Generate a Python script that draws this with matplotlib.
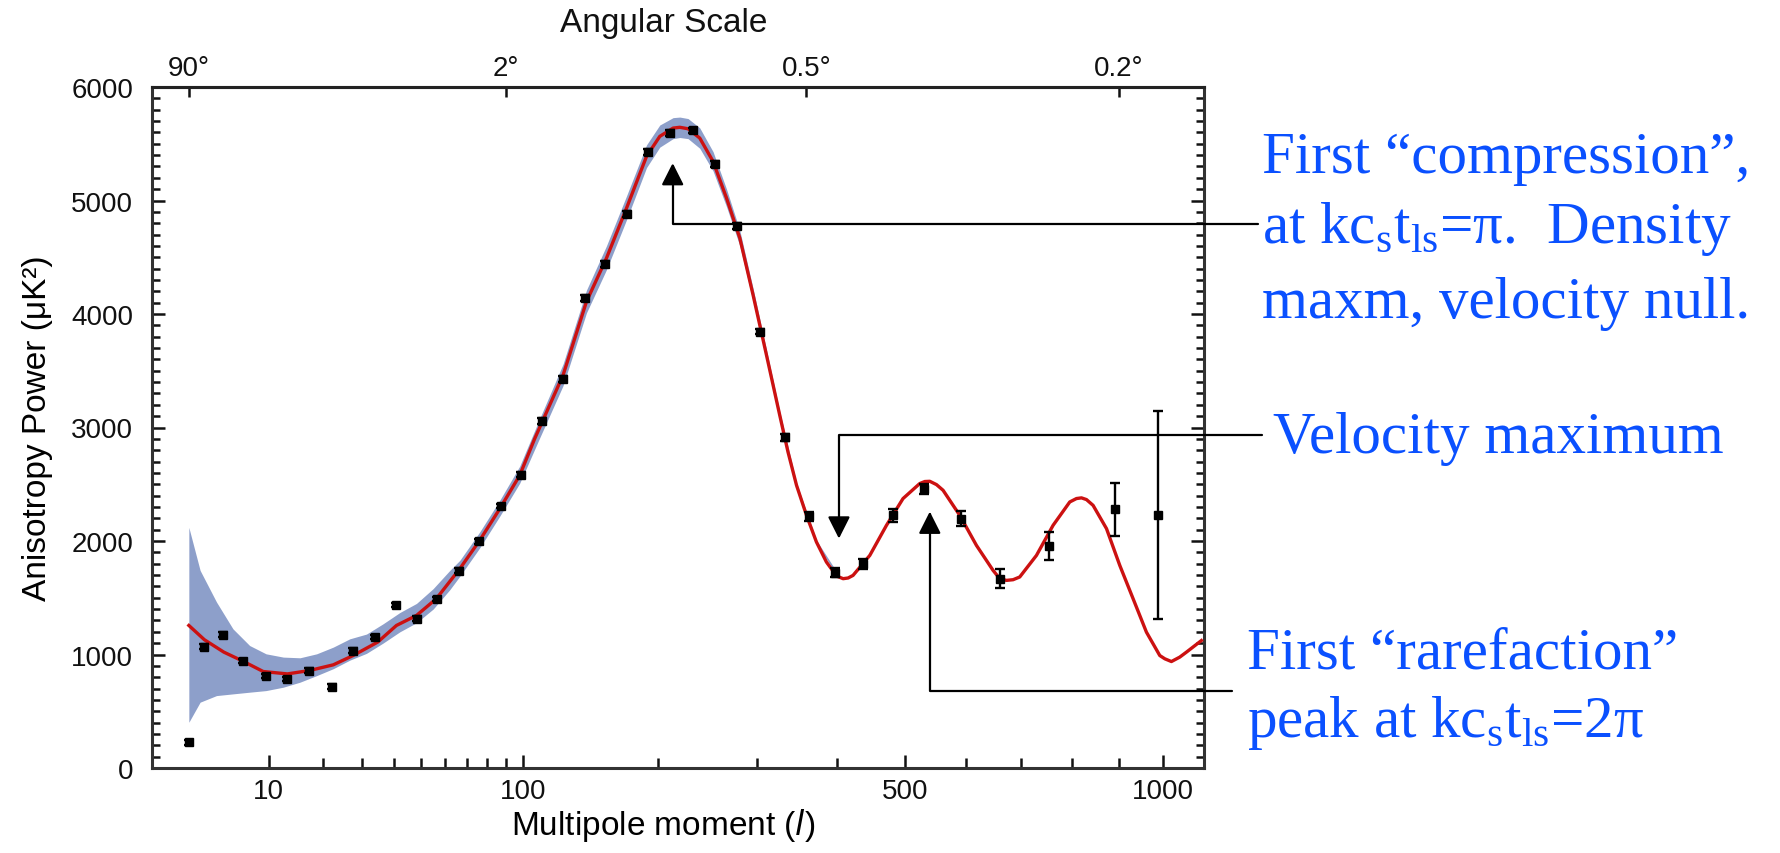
import numpy as np
import matplotlib.pyplot as plt
from matplotlib.ticker import FixedLocator, MultipleLocator, NullLocator

# binned measurements (multipole, power in uK^2, error)
data_l = [2, 3, 4.5, 6.6, 9.6, 13, 17.1, 22.1, 27.6, 33.9, 40.7, 48.3, 56.5, 66.0,
          75.9, 87.2, 98.9, 111.5, 124.8, 140.9, 155.3, 172.6, 190.8, 210.3, 232.5,
          254.4, 278.5, 304.3, 333.8, 363.1, 398.0, 436.8, 481.0, 529.4, 590.3,
          659.5, 753.7, 891.0, 989.0]
data_v = [227, 1070, 1176, 941, 809, 785, 859, 717, 1035, 1153, 1438, 1315, 1491, 1738,
          1997, 2309, 2585, 3056, 3426, 4138, 4441, 4882, 5427, 5594, 5618,
          5321, 4776, 3845, 2915, 2217, 1721, 1800, 2226, 2462, 2197,
          1668, 1956, 2279, 2232]
data_err = [20, 20, 20, 20, 20, 20, 20, 20, 20, 20, 20, 20, 20, 20,
            20, 20, 20, 25, 25, 25, 25, 25, 25, 25, 25,
            25, 25, 25, 30, 40, 40, 44, 56, 44, 63,
            85, 125, 235, 915]

# best fit model curve
curve_l = [2, 3, 4.6, 6.6, 9.2, 13, 17.2, 22.5, 27.6, 34.8, 41, 48.3, 56.2, 66.6,
           76.2, 86.7, 97.9, 106.9, 125.2, 141.6, 156.6, 172.6, 189.5, 201.2, 213.4,
           219.7, 227.6, 239.1, 252.6, 266.7, 281.1, 295.9, 311.3, 327, 337, 347.6,
           360.2, 373, 386.1, 399.7, 408.7, 415.6, 422.5, 446.4, 471, 496.2, 522.4,
           530.5, 538.6, 549.5, 560.4, 588.6, 617.6, 647.3, 659.5, 671.8, 684.2,
           696.7, 728.8, 761.6, 795.4, 809.2, 819.6, 830.1, 844.1, 872.9, 902,
           931.8, 962.1, 993.1, 1005, 1020.6, 1040.6, 1056.8, 1093.6]
curve_v = [1256, 1130, 1021, 941, 850, 829, 859, 909, 991, 1109, 1256, 1344, 1491, 1756,
           2006, 2285, 2579, 2903, 3462, 4109, 4491, 4932, 5389, 5565, 5638,
           5645, 5632, 5550, 5344, 5021, 4668, 4167, 3638, 3109, 2786, 2491,
           2226, 1991, 1815, 1692, 1668, 1674, 1697, 1873, 2138, 2374, 2506,
           2524, 2526, 2497, 2447, 2226, 1961, 1741, 1668, 1653, 1659,
           1683, 1873, 2138, 2344, 2374, 2380, 2365, 2314, 2109, 1785,
           1491, 1197, 991, 962, 938, 977, 1021, 1123]

# cosmic variance band
band_l = [2, 2.7, 3.95, 5.5, 7.4, 9.6, 12.3, 15.3, 18.7, 22.5, 26.7, 31.4, 36.5, 42.2,
          48.3, 54.9, 62, 66.6, 76.2, 86.7, 97.9, 110, 125.2, 141.6, 156.6, 172.6,
          189.5, 201.2, 213.4, 219.7, 227.6, 239.1, 252.6, 266.7, 281.1, 295.9,
          311.3, 327, 347.6, 373, 401.9]
band_lo = [403, 580, 638, 653, 668, 682, 712, 756, 814, 875, 950, 1010, 1100, 1200,
           1280, 1400, 1570, 1690, 1940, 2220, 2510, 2910, 3370, 4010, 4390, 4830,
           5290, 5470, 5545, 5555, 5545, 5460, 5260, 4945, 4600, 4110,
           3590, 3075, 2470, 1975, 1685]
band_hi = [2120, 1741, 1462, 1226, 1079, 1006, 977, 971, 1006, 1065, 1138, 1180, 1270, 1370,
           1450, 1580, 1740, 1830, 2080, 2360, 2660, 3080, 3560, 4210, 4600, 5040,
           5490, 5665, 5730, 5735, 5722, 5640, 5430, 5100, 4735, 4225,
           3685, 3143, 2512, 2007, 1709]

bottom_major = [10, 100, 500, 1000]
bottom_minor = [20, 30, 40, 50, 60, 70, 80, 90, 200, 300, 400, 600, 700, 800, 900]
top_l = [2, 90, 360, 900]
top_labels = ['90°', '2°', '0.5°', '0.2°']

blue = '#0a50ff'
serif = 'Liberation Serif'
plt.rcParams['font.family'] = ['Liberation Sans', 'DejaVu Sans']
plt.rcParams['mathtext.fontset'] = 'custom'
plt.rcParams['mathtext.rm'] = serif


def fwd(l):
    return np.power(np.clip(l, 0, None), 0.4)


def inv(u):
    return np.power(np.clip(u, 0, None), 2.5)


fig = plt.figure(figsize=(17.8, 8.54), dpi=100)
ax = fig.add_axes([152 / 1780, 1 - 769 / 854, 1052 / 1780, 681 / 854])
ax.set_xscale('function', functions=(fwd, inv))
ax.set_xlim(0.52, 1100)
ax.set_ylim(0, 6000)

ax.fill_between(band_l, band_lo, band_hi, color='#8d9fca', lw=0, zorder=1)
ax.plot(curve_l, curve_v, color='#cc1111', lw=2.4, zorder=3)
ax.errorbar(data_l, data_v, yerr=data_err, fmt='s', color='black', ms=5.5,
            capsize=3.5, elinewidth=1.7, capthick=1.7, zorder=4)

ax.xaxis.set_major_locator(FixedLocator(bottom_major))
ax.xaxis.set_minor_locator(FixedLocator(bottom_minor))
ax.set_xticklabels([str(v) for v in bottom_major])
ax.yaxis.set_major_locator(MultipleLocator(1000))
ax.yaxis.set_minor_locator(MultipleLocator(100))
ax.tick_params(axis='x', which='both', direction='in', top=False, width=1.8,
               labelsize=20, pad=7, colors='#111111')
ax.tick_params(axis='x', which='major', length=9.5)
ax.tick_params(axis='x', which='minor', length=7.5)
ax.tick_params(axis='y', which='both', direction='in', left=True, right=True,
               width=1.8, labelsize=20, pad=13.5, colors='#111111')
ax.tick_params(axis='y', which='major', length=9.5)
ax.tick_params(axis='y', which='minor', length=5.5)
for side in ['left', 'right', 'bottom', 'top']:
    ax.spines[side].set_linewidth(2.2)
    ax.spines[side].set_color('#333333')

ax.set_xlabel('Multipole moment (' + r'$\mathit{l}$' + ')', fontsize=24)
ax.xaxis.set_label_coords(0.486, -0.056)
ax.set_ylabel('Anisotropy Power (μK²)', fontsize=24)
ax.yaxis.set_label_coords(-0.094, 0.5)

ax2 = ax.twiny()
ax2.set_xscale('function', functions=(fwd, inv))
ax2.set_xlim(ax.get_xlim())
ax2.xaxis.set_major_locator(FixedLocator(top_l))
ax2.xaxis.set_minor_locator(NullLocator())
ax2.set_xticklabels(top_labels)
ax2.tick_params(axis='x', direction='in', length=7.5, width=1.8, labelsize=20,
                pad=4, colors='#111111')
for side in ['left', 'right', 'bottom']:
    ax2.spines[side].set_visible(False)
ax2.spines['top'].set_linewidth(2.2)
ax2.spines['top'].set_color('#222222')
fig.text(664 / 1780, 1 - 32 / 854, 'Angular Scale', fontsize=24, ha='center',
         va='baseline', color='#111111')

# annotation arrows: tip in data space, elbow ends next to the text
arrow_kw = dict(arrowstyle='-|>,head_length=13.5,head_width=6.8', mutation_scale=1,
                connectionstyle='angle,angleA=0,angleB=90,rad=0', color='black',
                lw=1.6, shrinkA=0, shrinkB=0)
ax.annotate('', xy=(213, 5330), xytext=(1258 / 1780, 1 - 225 / 854),
            textcoords='figure fraction', arrowprops=arrow_kw, annotation_clip=False)
ax.annotate('', xy=(403, 2021), xytext=(1262 / 1780, 1 - 436 / 854),
            textcoords='figure fraction', arrowprops=arrow_kw, annotation_clip=False)
ax.annotate('', xy=(538.6, 2259), xytext=(1232 / 1780, 1 - 692 / 854),
            textcoords='figure fraction', arrowprops=arrow_kw, annotation_clip=False)

tkw = dict(fontsize=42.5, family=serif, color=blue, ha='left', va='baseline')
fig.text(1262 / 1780, 1 - 173 / 854, 'First \u201ccompression\u201d,', **tkw)
fig.text(1262 / 1780, 1 - 243 / 854,
         r'at kc$_\mathregular{s}$t$_\mathregular{ls}$=π.  Density', **tkw)
fig.text(1262 / 1780, 1 - 318 / 854, 'maxm, velocity null.', **tkw)
fig.text(1273 / 1780, 1 - 453 / 854, 'Velocity maximum', **tkw)
fig.text(1247 / 1780, 1 - 669 / 854, 'First \u201crarefaction\u201d', **tkw)
fig.text(1247 / 1780, 1 - 737 / 854,
         r'peak at kc$_\mathregular{s}$t$_\mathregular{ls}$=2π', **tkw)

fig.savefig('out.png', dpi=100)
